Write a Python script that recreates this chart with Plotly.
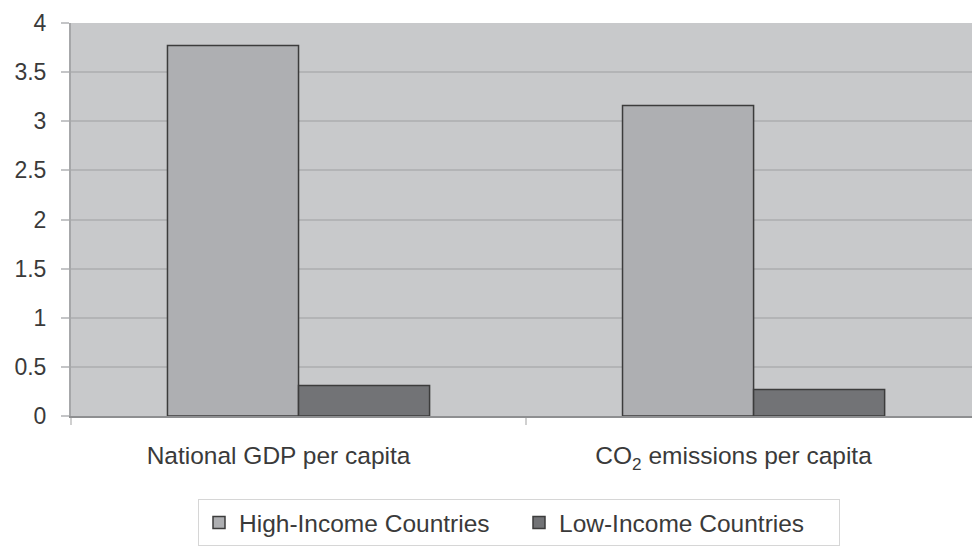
import plotly.graph_objects as go

# Ratio of high-income to low-income country averages, by indicator
categories = ["National GDP per capita", "CO<sub>2</sub> emissions per capita"]
high_income = [3.77, 3.16]
low_income = [0.31, 0.27]
series_names = ["High-Income Countries", "Low-Income Countries"]
y_ticks = [0, 0.5, 1, 1.5, 2, 2.5, 3, 3.5, 4]
y_tick_labels = ["0", "0.5", "1", "1.5", "2", "2.5", "3", "3.5", "4"]

FONT = "Liberation Sans, Arial, sans-serif"
TEXT = "#3a3a3a"
OUTLINE = "#3c3c3c"

fig = go.Figure()
fig.add_trace(go.Bar(
    x=categories, y=high_income, name=series_names[0],
    marker=dict(color="#aeafb2", line=dict(color=OUTLINE, width=1.5)),
))
fig.add_trace(go.Bar(
    x=categories, y=low_income, name=series_names[1],
    marker=dict(color="#727376", line=dict(color=OUTLINE, width=1.5)),
))

fig.update_layout(
    width=972, height=546,
    margin=dict(l=71, r=0, t=23, b=130),
    paper_bgcolor="white",
    plot_bgcolor="#c8c9cb",
    barmode="group",
    bargap=0.424,
    bargroupgap=0,
    font=dict(family=FONT, size=24, color=TEXT),
    showlegend=True,
    legend=dict(
        orientation="h",
        xref="container", yref="container",
        x=198 / 972, y=1 - 499 / 546,
        xanchor="left", yanchor="top",
        bgcolor="white",
        bordercolor="#d6d6d6", borderwidth=1,
        font=dict(family=FONT, size=24.5, color=TEXT),
        entrywidth=275, entrywidthmode="pixels",
        traceorder="normal",
    ),
)

fig.update_xaxes(
    range=[-0.5, 1.48],
    showline=True, linecolor="#8e8f91", linewidth=2,
    ticks="outside", tickson="boundaries", ticklen=7, tickcolor="#d0d0d0", tickwidth=2,
    ticklabelstandoff=17,
    ticklabelshift=-20,
    showgrid=False,
    tickfont=dict(family=FONT, size=24.5, color=TEXT),
)
fig.update_yaxes(
    range=[0, 4],
    tickvals=y_ticks, ticktext=y_tick_labels,
    showline=True, linecolor="#a6a7a9", linewidth=2,
    ticks="outside", ticklen=8, tickcolor="#c4c5c7", tickwidth=2,
    ticklabelstandoff=10,
    showgrid=True, gridcolor="#b3b4b6", gridwidth=2,
    zeroline=False,
    tickfont=dict(family=FONT, size=23, color=TEXT),
)

fig.write_html("out.html")
